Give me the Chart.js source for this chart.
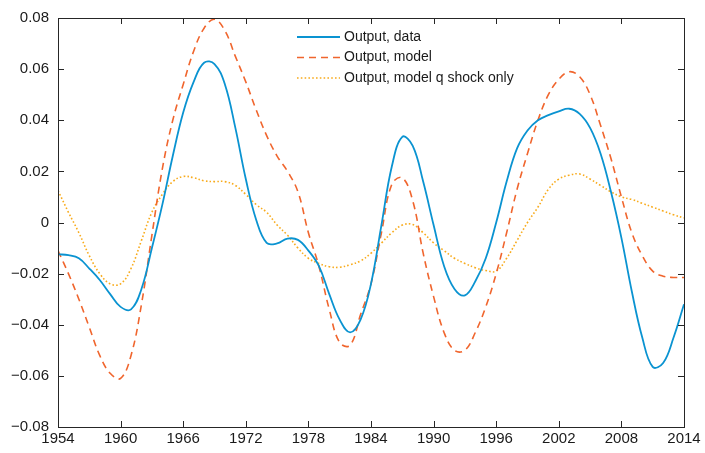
<!DOCTYPE html>
<html>
<head>
<meta charset="utf-8">
<script src="https://cdn.jsdelivr.net/npm/chart.js@4"></script>
<style>
  html, body { margin: 0; padding: 0; background: #fff; }
  #wrap { width: 705px; height: 453px; }
</style>
</head>
<body>
<div id="wrap"><canvas id="outputChart"></canvas></div>
<script>
// years 1954..2014
const years = [];
for (let y = 1954; y <= 2014; y++) years.push(y);

const outputData = [
  -0.0124, -0.0128, -0.014, -0.018, -0.0225, -0.028, -0.033, -0.034, -0.026, -0.010,
  0.007, 0.026, 0.043, 0.055, 0.0625, 0.062, 0.054, 0.037, 0.017, 0.001,
  -0.008, -0.0082, -0.0063, -0.0068, -0.011, -0.017, -0.028, -0.038, -0.043, -0.038,
  -0.024, -0.001, 0.022, 0.0335, 0.030, 0.016, -0.001, -0.017, -0.026, -0.0285,
  -0.023, -0.014, 0.000, 0.016, 0.029, 0.036, 0.040, 0.042, 0.0435, 0.0445,
  0.0425, 0.037, 0.027, 0.012, -0.006, -0.027, -0.045, -0.0565, -0.055, -0.045,
  -0.032
];

const modelData = [
  -0.011, -0.020, -0.030, -0.041, -0.052, -0.059, -0.061, -0.052, -0.032, -0.005,
  0.021, 0.040, 0.054, 0.067, 0.076, 0.0795, 0.075, 0.065, 0.055, 0.044,
  0.034, 0.026, 0.020, 0.012, -0.004, -0.017, -0.034, -0.047, -0.048, -0.036,
  -0.024, -0.004, 0.015, 0.0175, 0.0085, -0.012, -0.029, -0.043, -0.050, -0.050,
  -0.043, -0.033, -0.020, -0.004, 0.013, 0.027, 0.040, 0.050, 0.056, 0.059,
  0.057, 0.050, 0.038, 0.025, 0.010, -0.004, -0.013, -0.019, -0.021, -0.0215,
  -0.0215
];

const qShockData = [
  0.0125, 0.004, -0.004, -0.013, -0.020, -0.024, -0.024, -0.018, -0.007, 0.004,
  0.011, 0.016, 0.018, 0.0175, 0.0163, 0.016, 0.016, 0.0145, 0.011, 0.007,
  0.004, -0.001, -0.005, -0.010, -0.014, -0.016, -0.0173, -0.0175, -0.0165, -0.015,
  -0.012, -0.008, -0.004, -0.001, -0.0008, -0.004, -0.008, -0.011, -0.014, -0.016,
  -0.0177, -0.0188, -0.019, -0.014, -0.007, 0.000, 0.006, 0.013, 0.017, 0.0185,
  0.019, 0.017, 0.0145, 0.012, 0.010, 0.009, 0.0075, 0.006, 0.0045, 0.003,
  0.0018
];

const seriesLabels = ['Output, data', 'Output, model', 'Output, model q shock only'];
const xTicks = [1954, 1960, 1966, 1972, 1978, 1984, 1990, 1996, 2002, 2008, 2014];
const yTicks = [-0.08, -0.06, -0.04, -0.02, 0, 0.02, 0.04, 0.06, 0.08];

const toPoints = arr => arr.map((v, i) => ({ x: years[i], y: v }));
const axisColor = '#262626';
const fontFamily = '"Liberation Sans", Arial, Helvetica, sans-serif';

// box on top/right and inward ticks on all four sides (MATLAB style)
const boxPlugin = {
  id: 'boxPlugin',
  afterDraw(chart) {
    const { ctx, chartArea: a, scales } = chart;
    const len = 6;
    ctx.save();
    ctx.strokeStyle = axisColor;
    ctx.lineWidth = 1;
    ctx.setLineDash([]);
    ctx.beginPath();
    ctx.rect(a.left + 0.5, a.top + 0.5, a.right - a.left, a.bottom - a.top);
    ctx.stroke();
    ctx.beginPath();
    xTicks.forEach(t => {
      const px = Math.round(scales.x.getPixelForValue(t)) + 0.5;
      ctx.moveTo(px, a.bottom); ctx.lineTo(px, a.bottom - len);
      ctx.moveTo(px, a.top); ctx.lineTo(px, a.top + len);
    });
    yTicks.forEach(t => {
      const py = Math.round(scales.y.getPixelForValue(t)) + 0.5;
      ctx.moveTo(a.left, py); ctx.lineTo(a.left + len, py);
      ctx.moveTo(a.right, py); ctx.lineTo(a.right - len, py);
    });
    ctx.stroke();

    // legend
    const lx = 297, ly = 37, rowH = 20.5;
    ctx.font = '14px ' + fontFamily;
    ctx.textBaseline = 'middle';
    chart.data.datasets.forEach((ds, i) => {
      const y = ly + i * rowH;
      ctx.strokeStyle = ds.borderColor;
      ctx.lineWidth = ds.borderWidth;
      ctx.setLineDash(ds.borderDash || []);
      ctx.beginPath();
      ctx.moveTo(lx, y); ctx.lineTo(lx + 43, y);
      ctx.stroke();
      ctx.setLineDash([]);
      ctx.fillStyle = '#1a1a1a';
      ctx.fillText(ds.label, lx + 47, y);
    });
    ctx.restore();
  }
};

const ctxOutput = document.getElementById('outputChart').getContext('2d');
new Chart(ctxOutput, {
  type: 'line',
  data: {
    datasets: [
      {
        label: seriesLabels[0],
        data: toPoints(outputData),
        borderColor: '#0a93d1',
        borderWidth: 1.8,
        pointRadius: 0,
        tension: 0.4,
        fill: false
      },
      {
        label: seriesLabels[1],
        data: toPoints(modelData),
        borderColor: '#f0652d',
        borderWidth: 1.6,
        borderDash: [7, 5],
        pointRadius: 0,
        tension: 0.4,
        fill: false
      },
      {
        label: seriesLabels[2],
        data: toPoints(qShockData),
        borderColor: '#f8ab1c',
        borderWidth: 1.6,
        borderDash: [1.6, 2.2],
        pointRadius: 0,
        tension: 0.4,
        fill: false
      }
    ]
  },
  options: {
    responsive: true,
    maintainAspectRatio: false,
    animation: false,
    layout: { padding: { top: 16, right: 21, left: 0, bottom: 0 } },
    plugins: {
      legend: { display: false },
      tooltip: { enabled: false }
    },
    scales: {
      x: {
        type: 'linear',
        min: 1954,
        max: 2014,
        afterBuildTicks: scale => { scale.ticks = xTicks.map(v => ({ value: v })); },
        afterFit: scale => { scale.height = 26; },
        grid: { display: false, drawTicks: false },
        border: { display: true, color: axisColor },
        ticks: {
          color: '#1a1a1a',
          font: { family: fontFamily, size: 15 },
          padding: 3,
          maxRotation: 0,
          callback: v => String(v)
        }
      },
      y: {
        type: 'linear',
        min: -0.08,
        max: 0.08,
        afterBuildTicks: scale => { scale.ticks = yTicks.map(v => ({ value: v })); },
        afterFit: scale => { scale.width = 58; },
        grid: { display: false, drawTicks: false },
        border: { display: true, color: axisColor },
        ticks: {
          color: '#1a1a1a',
          font: { family: fontFamily, size: 15 },
          padding: 9,
          callback: v => {
            if (Math.abs(v) < 1e-9) return '0';
            return (v < 0 ? '\u2212' : '') + Math.abs(v).toFixed(2);
          }
        }
      }
    }
  },
  plugins: [boxPlugin]
});
</script>
</body>
</html>
